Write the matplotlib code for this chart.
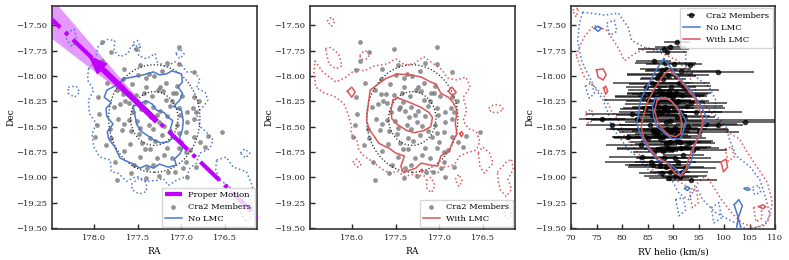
import numpy as np
import matplotlib.pyplot as plt
from matplotlib.patches import Ellipse
from matplotlib.ticker import FuncFormatter

# ---- Cra2 members (RA, Dec, RV, RV error) ----
ra = [177.91, 177.52, 177.03, 177.80, 177.91, 177.47, 177.16, 177.03, 177.95, 176.86,
      177.50, 177.37, 177.31, 177.85, 177.67, 177.18, 177.40, 177.24, 177.05, 177.41,
      177.06, 177.73, 177.67, 177.61, 177.52, 177.43, 177.21, 177.27, 176.99, 176.86,
      177.95, 177.70, 177.64, 177.60, 177.45, 177.32, 177.18, 177.11, 177.03, 177.77,
      177.94, 177.60, 177.51, 177.46, 177.39, 177.35, 177.28, 177.24, 177.17, 177.26,
      177.375, 177.47, 177.33, 177.20, 177.13, 177.05, 177.02, 176.94, 176.87, 176.83,
      176.94, 176.86, 177.08, 177.03, 176.95, 176.86, 176.79, 176.73, 177.98, 177.80,
      177.68, 177.57, 177.59, 177.36, 177.30, 177.36, 177.17, 177.03, 176.95, 177.47,
      177.28, 177.20, 177.11, 176.95, 177.545, 177.39, 177.32, 177.07, 176.98, 176.83,
      177.73, 176.94, 177.96, 177.40, 176.80, 176.54, 176.70, 177.72, 177.82, 177.65,
      177.55, 177.42, 177.13, 177.22, 177.45, 177.66, 177.76, 177.15, 177.26, 177.58,
      177.86, 177.10, 177.56, 177.34, 177.00, 176.90, 177.66, 177.22, 177.42, 177.48]
dec = [-17.67, -17.73, -17.71, -17.76, -17.85, -17.89, -17.87, -17.88, -17.94, -17.96,
       -17.99, -17.98, -18.00, -18.07, -18.035, -18.07, -18.025, -18.11, -18.10, -18.11,
       -18.17, -18.14, -18.18, -18.18, -18.19, -18.17, -18.15, -18.14, -18.20, -18.21,
       -18.21, -18.28, -18.25, -18.27, -18.305, -18.305, -18.24, -18.25, -18.32, -18.31,
       -18.38, -18.43, -18.44, -18.33, -18.35, -18.41, -18.39, -18.35, -18.40, -18.45,
       -18.485, -18.51, -18.525, -18.49, -18.545, -18.48, -18.39, -18.355, -18.315, -18.355,
       -18.45, -18.42, -18.60, -18.56, -18.55, -18.60, -18.65, -18.70, -18.60, -18.61,
       -18.535, -18.545, -18.675, -18.615, -18.645, -18.72, -18.715, -18.715, -18.75, -18.80,
       -18.81, -18.78, -18.81, -18.85, -18.88, -18.91, -18.88, -18.945, -18.91, -18.90,
       -19.03, -18.995, -18.48, -19.01, -18.25, -18.55, -18.59, -18.42, -18.52, -18.47,
       -18.36, -18.26, -18.30, -18.58, -18.66, -18.74, -18.85, -18.95, -18.99, -18.96,
       -18.68, -18.17, -18.08, -18.20, -18.65, -18.73, -17.93, -17.95, -18.72, -18.57]
rv = [90.8, 88.2, 89.5, 88.8, 86.2, 93.4, 88.5, 90.2, 87.8, 98.9,
      89.0, 87.5, 90.6, 85.8, 88.0, 91.2, 86.8, 89.6, 92.0, 84.8,
      90.5, 87.2, 85.5, 88.9, 91.8, 86.0, 89.2, 92.6, 87.6, 90.0,
      84.2, 86.5, 89.8, 93.5, 87.0, 88.4, 85.0, 91.0, 90.2, 86.0,
      82.0, 92.0, 89.4, 84.6, 88.0, 90.8, 86.6, 89.0, 92.2, 88.6,
      85.4, 90.4, 87.2, 93.0, 89.6, 98.8, 85.8, 91.6, 88.2, 94.5,
      104.2, 76.0, 88.0, 91.0, 86.4, 81.2, 89.5, 92.5, 84.5, 87.5,
      90.0, 86.0, 88.6, 85.0, 90.8, 87.0, 91.6, 89.0, 86.2, 84.0,
      90.4, 92.0, 88.2, 91.0, 87.4, 90.0, 86.0, 89.4, 92.4, 88.6,
      93.6, 91.4, 78.0, 89.2, 86.8, 95.0, 90.6, 83.0, 88.8, 96.5,
      87.4, 90.8, 92.8, 87.0, 93.2, 88.0, 85.6, 91.8, 90.4, 87.8,
      83.8, 88.0, 86.4, 89.6, 91.4, 94.0, 88.6, 91.6, 89.8, 86.6]
rv_err = [2.5, 5.0, 3.0, 4.0, 3.5, 1.0, 6.0, 5.5, 3.0, 7.0,
          8.0, 6.5, 4.0, 7.5, 4.5, 6.0, 3.0, 5.0, 5.5, 4.0,
          7.0, 6.0, 3.5, 8.0, 4.5, 5.0, 3.0, 6.5, 9.0, 4.0,
          5.5, 6.0, 5.0, 7.0, 3.0, 4.5, 8.5, 6.0, 10.0, 4.0,
          9.0, 18.0, 6.5, 5.0, 3.5, 7.5, 4.0, 2.5, 5.0, 8.0,
          6.0, 4.5, 9.5, 6.0, 3.5, 5.0, 7.0, 8.0, 6.0, 9.0,
          7.5, 4.5, 5.5, 4.0, 7.0, 3.0, 8.0, 5.0, 6.5, 9.0,
          11.0, 4.0, 6.0, 3.5, 7.0, 8.0, 5.0, 10.0, 4.0, 6.5,
          7.0, 4.0, 5.5, 8.5, 6.0, 3.0, 5.5, 4.0, 6.0, 7.5,
          5.0, 3.5, 5.0, 4.0, 6.0, 8.0, 5.0, 10.0, 12.0, 6.0,
          8.0, 5.5, 7.0, 6.0, 5.0, 3.0, 9.0, 5.0, 6.0, 4.5,
          7.0, 3.5, 5.0, 6.5, 4.0, 6.5, 5.0, 7.0, 5.5, 4.0]

# ---- half-light ellipses (center RA, center Dec, half-widths) ----
cra2_center = (177.31, -18.42)
ell_radii = [(0.52, 0.53), (0.27, 0.265)]

# ---- proper motion ----
pm_ra = [178.6, 176.0]
pm_dec = [-17.34, -19.50]
pm_arrow_start = (177.28, -18.45)
pm_arrow_tip = (178.06, -17.80)
pm_cone_ra = [177.31, 178.6, 178.6]
pm_cone_dec = [-18.41, -17.11, -17.55]

# ---- model contours, panel 1 (RA/Dec, no LMC) ----
nolmc_radec_solid = [
    [(177.74, -18.09), (177.64, -18.025), (177.435, -17.99), (177.32, -17.96), (177.25, -17.99),
     (177.17, -17.98), (177.11, -17.95), (177.00, -17.98), (176.99, -18.06), (177.04, -18.11),
     (176.99, -18.17), (177.02, -18.24), (177.09, -18.30), (177.00, -18.34), (176.98, -18.44),
     (176.99, -18.53), (177.02, -18.61), (176.98, -18.70), (177.02, -18.77), (177.08, -18.82),
     (177.06, -18.88), (177.15, -18.90), (177.25, -18.87), (177.32, -18.91), (177.40, -18.88),
     (177.47, -18.91), (177.57, -18.86), (177.63, -18.84), (177.70, -18.81), (177.76, -18.70),
     (177.83, -18.62), (177.845, -18.55), (177.78, -18.475), (177.85, -18.40), (177.86, -18.32),
     (177.80, -18.265), (177.88, -18.21), (177.85, -18.14)],
    [(177.55, -18.30), (177.40, -18.245), (177.33, -18.28), (177.28, -18.34), (177.20, -18.36),
     (177.15, -18.41), (177.10, -18.44), (177.125, -18.52), (177.09, -18.60), (177.15, -18.65),
     (177.24, -18.66), (177.32, -18.63), (177.40, -18.58), (177.47, -18.54), (177.51, -18.475),
     (177.53, -18.39)],
]
nolmc_radec_dotted = [
    [(178.06, -17.93), (177.985, -17.86), (177.95, -17.71), (177.85, -17.64), (177.76, -17.65),
     (177.77, -17.75), (177.70, -17.81), (177.61, -17.78), (177.57, -17.70), (177.47, -17.71),
     (177.49, -17.80), (177.40, -17.83), (177.30, -17.78), (177.28, -17.86), (177.17, -17.91),
     (177.08, -17.86), (177.00, -17.89), (176.94, -17.96), (176.85, -17.96), (176.79, -18.04),
     (176.83, -18.12), (176.73, -18.16), (176.70, -18.24), (176.75, -18.30), (176.83, -18.37),
     (176.79, -18.50), (176.72, -18.55), (176.64, -18.63), (176.68, -18.72), (176.79, -18.76),
     (176.83, -18.86), (176.905, -18.91), (176.94, -18.99), (177.06, -19.03), (177.15, -19.08),
     (177.21, -19.01), (177.28, -19.03), (177.40, -19.04), (177.51, -18.99), (177.625, -19.04),
     (177.72, -18.96), (177.80, -18.945), (177.81, -18.83), (177.93, -18.80), (178.00, -18.70),
     (178.02, -18.57), (177.97, -18.47), (178.05, -18.37), (178.06, -18.24), (178.00, -18.14),
     (178.07, -18.04)],
    [(178.31, -17.57), (178.22, -17.54), (178.19, -17.65), (178.25, -17.71), (178.31, -17.64)],
    [(178.29, -18.11), (178.20, -18.10), (178.16, -18.16), (178.22, -18.21), (178.29, -18.17)],
    [(177.55, -17.67), (177.50, -17.65), (177.47, -17.71), (177.52, -17.76)],
    [(177.065, -17.78), (177.02, -17.73), (176.97, -17.785), (177.02, -17.83)],
    [(176.33, -18.76), (176.28, -18.72), (176.22, -18.76), (176.27, -18.81)],
    [(177.57, -19.07), (177.49, -19.01), (177.40, -19.05), (177.40, -19.14), (177.48, -19.165),
     (177.56, -19.125)],
    [(176.60, -18.83), (176.49, -18.80), (176.41, -18.90), (176.26, -18.945), (176.19, -19.09),
     (176.22, -19.22), (176.17, -19.355), (176.26, -19.44), (176.36, -19.31), (176.41, -19.21),
     (176.45, -19.09), (176.56, -19.03), (176.61, -18.93)],
]

# ---- model contours, panel 2 (RA/Dec, with LMC) ----
lmc_radec_solid = [
    [(177.82, -18.34), (177.79, -18.14), (177.69, -18.075), (177.61, -18.025), (177.48, -17.98),
     (177.33, -17.99), (177.21, -18.01), (177.10, -18.06), (177.04, -18.08), (176.985, -18.17),
     (176.90, -18.21), (176.85, -18.255), (176.80, -18.34), (176.82, -18.47), (176.80, -18.57),
     (176.85, -18.65), (176.89, -18.74), (176.985, -18.79), (177.02, -18.89), (177.10, -18.88),
     (177.21, -18.86), (177.27, -18.91), (177.36, -18.935), (177.41, -18.955), (177.44, -18.89),
     (177.40, -18.79), (177.50, -18.76), (177.57, -18.715), (177.69, -18.665), (177.74, -18.60),
     (177.80, -18.53), (177.83, -18.44)],
    [(177.53, -18.24), (177.48, -18.215), (177.33, -18.265), (177.21, -18.31), (177.12, -18.36),
     (177.08, -18.41), (177.10, -18.50), (177.18, -18.54), (177.29, -18.56), (177.38, -18.535),
     (177.485, -18.475), (177.545, -18.42), (177.55, -18.32)],
    [(178.05, -18.15), (178.00, -18.11), (177.96, -18.16), (178.00, -18.21)],
    [(176.90, -18.15), (176.86, -18.11), (176.81, -18.16), (176.85, -18.20)],
    [(176.77, -18.57), (176.75, -18.55), (176.73, -18.57), (176.75, -18.60)],
    [(177.21, -18.93), (177.20, -18.92), (177.19, -18.94), (177.20, -18.95)],
]
lmc_radec_dotted = [
    [(178.42, -17.85), (178.33, -17.96), (178.18, -18.06), (178.06, -18.01), (177.95, -17.93),
     (177.86, -17.95), (177.74, -17.90), (177.59, -17.88), (177.50, -17.83), (177.40, -17.89),
     (177.29, -17.88), (177.18, -17.81), (177.10, -17.86), (176.97, -17.94), (176.91, -18.02),
     (176.80, -18.04), (176.70, -18.01), (176.65, -18.11), (176.73, -18.21), (176.69, -18.34),
     (176.73, -18.44), (176.67, -18.52), (176.58, -18.55), (176.54, -18.65), (176.58, -18.73),
     (176.69, -18.76), (176.77, -18.79), (176.82, -18.86), (176.88, -18.89), (176.95, -18.90),
     (177.03, -18.96), (177.10, -18.94), (177.18, -18.99), (177.29, -18.97), (177.40, -18.99),
     (177.48, -18.94), (177.57, -18.96), (177.67, -18.91), (177.74, -18.86), (177.86, -18.79),
     (177.92, -18.73), (177.94, -18.63), (178.01, -18.57), (178.00, -18.50), (178.04, -18.38),
     (178.09, -18.27), (178.20, -18.20), (178.31, -18.17), (178.41, -18.11), (178.43, -17.97)],
    [(178.28, -17.46), (178.23, -17.42), (178.19, -17.46), (178.23, -17.51)],
    [(178.30, -17.73), (178.24, -17.72), (178.15, -17.78), (178.11, -17.90), (178.18, -17.93),
     (178.26, -17.88)],
    [(177.91, -17.80), (177.86, -17.75), (177.79, -17.77), (177.82, -17.83), (177.89, -17.84)],
    [(176.44, -18.32), (176.38, -18.28), (176.31, -18.29), (176.27, -18.33), (176.33, -18.36),
     (176.41, -18.36)],
    [(176.56, -18.76), (176.51, -18.70), (176.43, -18.76), (176.39, -18.86), (176.49, -18.96),
     (176.54, -18.89)],
    [(176.82, -19.02), (176.78, -18.97), (176.74, -19.04), (176.78, -19.09)],
    [(177.15, -19.03), (177.10, -19.00), (177.05, -19.08), (177.09, -19.15), (177.14, -19.12)],
    [(176.34, -18.95), (176.24, -18.85), (176.18, -18.82), (176.16, -18.92), (176.22, -19.02),
     (176.18, -19.12), (176.24, -19.19), (176.31, -19.12), (176.33, -19.04)],
    [(177.99, -18.85), (177.94, -18.82), (177.89, -18.87), (177.93, -18.90)],
    [(176.28, -19.29), (176.20, -19.26), (176.18, -19.38), (176.24, -19.41)],
]

# ---- model contours, panel 3 (RV/Dec) ----
nolmc_rv_solid = [
    [(88.2, -17.83), (90.5, -17.98), (92.5, -18.09), (93.8, -18.16), (95.5, -18.30), (96.4, -18.39),
     (96.8, -18.45), (95.8, -18.485), (95.1, -18.60), (94.1, -18.70), (93.8, -18.80), (93.1, -18.90),
     (92.1, -18.93), (91.5, -18.98), (90.8, -18.93), (89.2, -18.86), (86.9, -18.83), (84.9, -18.70),
     (83.6, -18.57), (82.9, -18.47), (83.2, -18.39), (83.6, -18.24), (84.9, -18.11), (86.5, -17.96),
     (87.5, -17.88)],
    [(86.5, -18.22), (87.85, -18.21), (89.5, -18.24), (91.5, -18.35), (92.5, -18.44), (92.1, -18.53),
     (91.5, -18.62), (89.8, -18.62), (88.5, -18.57), (86.9, -18.50), (86.2, -18.40), (86.0, -18.30)],
    [(74.6, -17.53), (75.3, -17.51), (76.0, -17.53), (75.3, -17.56)],
    [(102.0, -19.27), (102.9, -19.22), (103.6, -19.28), (102.8, -19.40), (103.4, -19.52),
     (102.4, -19.52), (102.8, -19.40)],
    [(92.3, -19.11), (92.8, -19.09), (93.3, -19.11), (92.8, -19.13)],
    [(104.0, -19.11), (104.6, -19.10), (105.1, -19.12), (104.6, -19.13)],
]
lmc_rv_solid = [
    [(89.2, -17.94), (90.8, -18.01), (92.5, -18.11), (94.1, -18.21), (95.1, -18.32), (95.8, -18.42),
     (95.7, -18.50), (94.8, -18.62), (93.8, -18.72), (93.0, -18.83), (92.5, -18.93), (91.5, -18.99),
     (90.5, -18.96), (88.8, -18.86), (86.9, -18.80), (85.5, -18.72), (84.2, -18.60), (83.75, -18.50),
     (84.2, -18.40), (84.9, -18.27), (86.2, -18.14), (87.5, -18.04), (88.2, -17.99)],
    [(86.9, -18.24), (88.5, -18.21), (89.8, -18.255), (91.2, -18.35), (91.8, -18.47), (91.5, -18.57),
     (90.5, -18.60), (89.2, -18.585), (87.85, -18.52), (86.9, -18.44), (86.4, -18.34)],
    [(75.0, -17.94), (76.3, -17.93), (76.9, -17.99), (76.3, -18.04), (75.3, -18.01)],
    [(76.4, -18.12), (76.8, -18.10), (77.2, -18.15), (76.8, -18.18)],
    [(99.4, -18.85), (100.4, -18.82), (100.7, -18.90), (99.9, -18.945)],
    [(106.9, -19.29), (107.6, -19.27), (108.2, -19.29), (107.6, -19.31)],
]
nolmc_rv_dotted = [
    [(72.3, -17.37), (76.6, -17.40), (79.3, -17.38), (81.2, -17.52), (81.9, -17.65), (84.5, -17.72),
     (87.85, -17.75), (90.5, -17.68), (92.5, -17.78), (92.5, -17.91), (94.5, -18.01), (97.1, -18.11),
     (98.4, -18.24), (98.1, -18.37), (100.4, -18.50), (101.1, -18.63), (102.4, -18.79), (105.0, -18.89),
     (107.0, -19.02), (108.3, -19.22), (109.0, -19.38), (107.7, -19.48), (104.4, -19.51), (101.1, -19.42),
     (98.4, -19.35), (95.8, -19.22), (94.5, -19.09), (93.1, -19.22), (91.2, -19.16), (89.8, -19.03),
     (87.85, -18.99), (85.2, -18.93), (83.2, -18.80), (81.2, -18.73), (79.9, -18.63), (77.9, -18.50),
     (77.3, -18.37), (76.3, -18.24), (74.6, -18.11), (73.3, -17.98), (72.0, -17.84), (71.3, -17.65),
     (71.65, -17.48)],
    [(72.8, -18.10), (74.0, -18.07), (74.6, -18.17), (73.6, -18.22)],
    [(90.5, -19.22), (92.0, -19.20), (92.5, -19.32), (91.2, -19.38)],
    [(97.5, -19.30), (99.0, -19.25), (99.5, -19.40), (98.0, -19.45)],
    [(105.6, -19.10), (106.8, -19.08), (107.2, -19.15), (106.0, -19.17)],
    [(77.0, -17.48), (78.5, -17.45), (79.0, -17.56), (77.6, -17.60)],
]
lmc_rv_dotted = [
    [(71.0, -17.80), (72.5, -17.62), (74.5, -17.50), (77.0, -17.55), (79.0, -17.70), (80.5, -17.85),
     (82.5, -17.78), (85.0, -17.72), (88.0, -17.78), (91.0, -17.85), (93.0, -17.98), (94.5, -18.15),
     (96.5, -18.30), (98.5, -18.42), (100.5, -18.55), (103.0, -18.62), (104.5, -18.75), (106.5, -18.90),
     (108.5, -19.05), (109.5, -19.25), (108.5, -19.45), (106.0, -19.50), (103.5, -19.45), (101.5, -19.35),
     (99.5, -19.22), (98.0, -19.10), (96.5, -18.98), (95.0, -19.05), (93.5, -19.12), (91.5, -19.05),
     (89.0, -19.00), (86.5, -18.95), (84.5, -18.85), (82.5, -18.72), (80.5, -18.60), (79.5, -18.45),
     (78.0, -18.35), (76.5, -18.20), (74.5, -18.10), (72.5, -18.00)],
    [(72.8, -18.36), (74.0, -18.33), (74.5, -18.43), (73.4, -18.47)],
    [(93.2, -19.15), (94.5, -19.12), (95.0, -19.25), (93.8, -19.30)],
    [(100.2, -18.72), (101.5, -18.70), (102.0, -18.80), (100.8, -18.84)],
    [(105.8, -19.30), (107.2, -19.28), (107.5, -19.40), (106.3, -19.44)],
    [(70.3, -17.35), (71.5, -17.33), (71.0, -17.42)],
]

blue = '#4a78cf'
red = '#dc5656'
purple = '#c000ff'
plt.rcParams['font.family'] = ['DejaVu Serif']
plt.rcParams['mathtext.fontset'] = 'dejavuserif'
TICK_FS = 6.0
LABEL_FS = 6.6
LEG_FS = 6.0


def draw_loops(ax, loops, **kw):
    first = True
    for loop in loops:
        xs = [p[0] for p in loop] + [loop[0][0]]
        ys = [p[1] for p in loop] + [loop[0][1]]
        if first:
            ax.plot(xs, ys, **kw)
            first = False
        else:
            kw2 = dict(kw)
            kw2.pop('label', None)
            ax.plot(xs, ys, **kw2)


def fmt(decimals):
    return FuncFormatter(lambda v, p: ('%.*f' % (decimals, v)).replace('-', '\u2212'))


def style(ax, xdec):
    for s in ax.spines.values():
        s.set_color('#333333')
        s.set_linewidth(1.2)
    ax.tick_params(direction='in', length=3.5, width=1, labelsize=TICK_FS, colors='#222222')
    ax.set_ylim(-19.51, -17.31)
    ax.set_yticks([-17.5, -17.75, -18.0, -18.25, -18.5, -18.75, -19.0, -19.25, -19.5])
    ax.yaxis.set_major_formatter(fmt(2))
    ax.xaxis.set_major_formatter(fmt(xdec))
    ax.set_ylabel('Dec', fontsize=LABEL_FS, labelpad=0.5)


def ellipses(ax):
    for rx, ry in ell_radii:
        ax.add_patch(Ellipse(cra2_center, 2 * rx, 2 * ry, fill=False, ls=':', lw=0.9,
                             color='#222222', zorder=3))


fig = plt.figure(figsize=(7.89, 2.6), dpi=100)
ax1 = fig.add_axes([52 / 789, 31 / 260, 205 / 789, 223 / 260])
ax2 = fig.add_axes([310 / 789, 31 / 260, 205 / 789, 223 / 260])
ax3 = fig.add_axes([571 / 789, 31 / 260, 204 / 789, 223 / 260])

# panel 1
ax1.fill(pm_cone_ra, pm_cone_dec, color=purple, alpha=0.4, lw=0, zorder=1)
draw_loops(ax1, nolmc_radec_dotted, color=blue, ls=':', lw=1.1, zorder=2)
ax1.scatter(ra, dec, s=12, color='#7a7a7a', alpha=0.8, lw=0, zorder=3, label='Cra2 Members')
draw_loops(ax1, nolmc_radec_solid, color=blue, lw=1.1, zorder=4, label='No LMC')
ellipses(ax1)
ax1.plot(pm_ra, pm_dec, color=purple, lw=3, ls='-.', zorder=5, label='Proper Motion')
ax1.annotate('', xy=pm_arrow_tip, xytext=pm_arrow_start, zorder=6,
             arrowprops=dict(color=purple, width=4, headwidth=11, headlength=14, lw=0))
ax1.set_xlim(178.475, 176.14)
ax1.set_xticks([178.0, 177.5, 177.0, 176.5])
ax1.set_xlabel('RA', fontsize=LABEL_FS)
style(ax1, 1)
h, l = ax1.get_legend_handles_labels()
order = [l.index('Proper Motion'), l.index('Cra2 Members'), l.index('No LMC')]
ax1.legend([h[i] for i in order], [l[i] for i in order], loc='lower right', fontsize=LEG_FS,
           borderaxespad=0.3, handlelength=2.0)

# panel 2
draw_loops(ax2, lmc_radec_dotted, color=red, ls=':', lw=1.1, zorder=2)
ax2.scatter(ra, dec, s=12, color='#7a7a7a', alpha=0.8, lw=0, zorder=3, label='Cra2 Members')
draw_loops(ax2, lmc_radec_solid, color=red, lw=1.1, zorder=4, label='With LMC')
ellipses(ax2)
ax2.set_xlim(178.475, 176.14)
ax2.set_xticks([178.0, 177.5, 177.0, 176.5])
ax2.set_xlabel('RA', fontsize=LABEL_FS)
style(ax2, 1)
ax2.legend(loc='lower right', fontsize=LEG_FS, borderaxespad=0.3, handlelength=2.0)

# panel 3
draw_loops(ax3, nolmc_rv_dotted, color=blue, ls=':', lw=1.1, zorder=2)
draw_loops(ax3, lmc_rv_dotted, color=red, ls=':', lw=1.1, zorder=2)
ax3.errorbar(rv, dec, xerr=rv_err, fmt='o', color='k', ms=3, elinewidth=1.2, alpha=0.7,
             capsize=0, zorder=3, label='Cra2 Members')
draw_loops(ax3, nolmc_rv_solid, color=blue, lw=1.1, zorder=4, label='No LMC')
draw_loops(ax3, lmc_rv_solid, color=red, lw=1.1, zorder=4, label='With LMC')
ax3.set_xlim(70, 110)
ax3.set_xticks(np.arange(70, 111, 5))
ax3.set_xlabel('RV helio (km/s)', fontsize=LABEL_FS)
style(ax3, 0)
h, l = ax3.get_legend_handles_labels()
order = [l.index('Cra2 Members'), l.index('No LMC'), l.index('With LMC')]
ax3.legend([h[i] for i in order], [l[i] for i in order], loc='upper right', fontsize=LEG_FS,
           borderaxespad=0.3, handlelength=2.0)

fig.savefig('out.png', dpi=100)
